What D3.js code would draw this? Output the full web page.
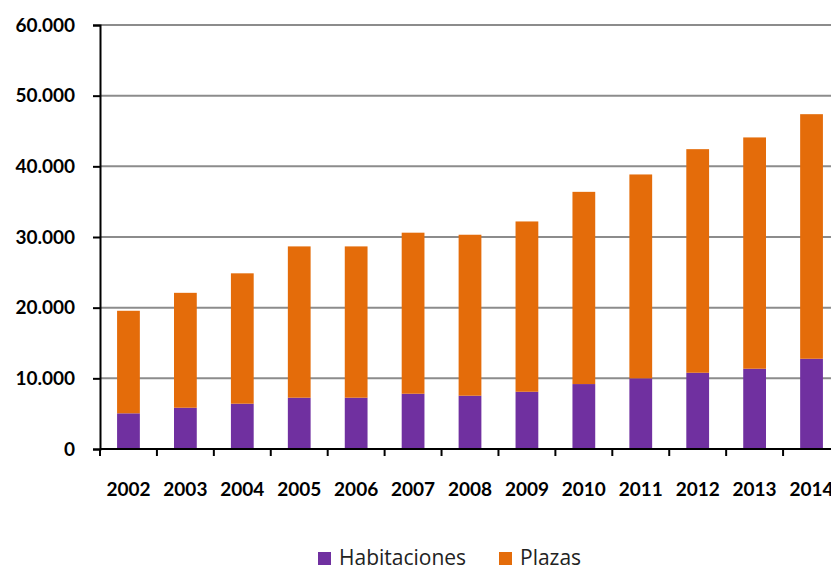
<!DOCTYPE html>
<html>
<head>
    <meta charset="utf-8">
    <title>Habitaciones y Plazas</title>
    <script src="https://d3js.org/d3.v7.min.js"></script>
    <style>
        body { margin: 0; background: #fff; }
        .tick text { font-family: Lato, "Open Sans", sans-serif; font-weight: bold; fill: #000; }
        .legend text { font-family: "Open Sans", sans-serif; font-size: 21px; fill: #222; }
    </style>
</head>
<body>
<script>
    // datos
    var years = ["2002","2003","2004","2005","2006","2007","2008","2009","2010","2011","2012","2013","2014"];
    var habitaciones = [5050, 5840, 6410, 7260, 7260, 7820, 7540, 8100, 9190, 10000, 10790, 11360, 12770];
    var totales = [19560, 22100, 24860, 28670, 28670, 30610, 30320, 32200, 36390, 38850, 42430, 44090, 47380];
    var plazas = totales.map(function(t, i) { return t - habitaciones[i]; });
    var yTicks = [0, 10000, 20000, 30000, 40000, 50000, 60000];
    var seriesNames = ["Habitaciones", "Plazas"];
    var colores = ["#7030A0", "#E46C0A"];

    var W = 831, H = 570;
    var margin = {top: 25, left: 100, bottom: 121};
    var plotH = H - margin.top - margin.bottom;

    var svg = d3.select("body").append("svg")
        .attr("width", W)
        .attr("height", H);

    var x = d3.scaleBand()
        .domain(years)
        .range([margin.left, 840])
        .paddingInner(0.6)
        .paddingOuter(0.3);

    var y = d3.scaleLinear()
        .domain([0, 60000])
        .range([margin.top + plotH, margin.top]);

    var fmt = function(d) { return d === 0 ? "0" : d3.format(",")(d).replace(/,/g, "."); };

    // lineas de la cuadricula
    svg.append("g")
        .selectAll("line")
        .data(yTicks.slice(1))
        .enter()
        .append("line")
          .attr("x1", margin.left)
          .attr("x2", W)
          .attr("y1", function(d) { return y(d); })
          .attr("y2", function(d) { return y(d); })
          .attr("stroke", "#8c8c8c")
          .attr("stroke-width", 2);

    // barras apiladas
    var rows = years.map(function(yr, i) {
        return {year: yr, Habitaciones: habitaciones[i], Plazas: plazas[i]};
    });
    var stack = d3.stack().keys(seriesNames)(rows);

    svg.append("g")
        .selectAll("g")
        .data(stack)
        .enter()
        .append("g")
          .attr("fill", function(d, i) { return colores[i]; })
        .selectAll("rect")
        .data(function(d) { return d; })
        .enter()
        .append("rect")
          .attr("x", function(d) { return x(d.data.year); })
          .attr("width", x.bandwidth())
          .attr("y", function(d) { return y(d[1]); })
          .attr("height", function(d) { return y(d[0]) - y(d[1]); });

    // eje Y
    var yAxis = svg.append("g")
        .attr("transform", "translate(" + margin.left + ",0)")
        .call(d3.axisLeft(y).tickValues(yTicks).tickFormat(fmt).tickSize(7).tickPadding(18));
    yAxis.select(".domain").attr("stroke", "#000").attr("stroke-width", 2);
    yAxis.selectAll(".tick line").attr("stroke", "#000").attr("stroke-width", 2);
    yAxis.selectAll(".tick text").attr("font-size", "19px");

    // eje X
    var xStep = x.step();
    var xAxis = svg.append("g")
        .attr("transform", "translate(0," + y(0) + ")");
    xAxis.append("line")
        .attr("x1", margin.left).attr("x2", W)
        .attr("stroke", "#000").attr("stroke-width", 2);
    xAxis.selectAll("line.tk")
        .data(d3.range(years.length + 1))
        .enter()
        .append("line")
          .attr("class", "tk")
          .attr("x1", function(i) { return margin.left + i * xStep; })
          .attr("x2", function(i) { return margin.left + i * xStep; })
          .attr("y1", 0).attr("y2", 7)
          .attr("stroke", "#000").attr("stroke-width", 2);
    xAxis.selectAll("text")
        .data(years)
        .enter()
        .append("text")
          .attr("class", "tick")
          .attr("x", function(d) { return x(d) + x.bandwidth() / 2; })
          .attr("y", 47)
          .attr("text-anchor", "middle")
          .style("font-family", "Lato, 'Open Sans', sans-serif")
          .style("font-weight", "bold")
          .style("font-size", "19px")
          .text(function(d) { return d; });

    // leyenda
    var legend = svg.append("g").attr("class", "legend");
    var legX = [318, 499];
    seriesNames.forEach(function(name, i) {
        legend.append("rect")
            .attr("x", legX[i]).attr("y", 552)
            .attr("width", 13).attr("height", 13)
            .attr("fill", colores[i]);
        legend.append("text")
            .attr("x", legX[i] + 21).attr("y", 565)
            .text(name);
    });
</script>
</body>
</html>
